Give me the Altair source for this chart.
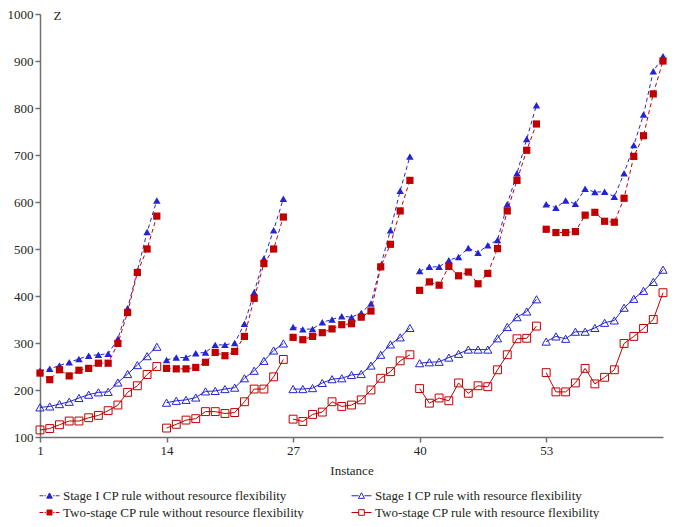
import altair as alt
import pandas as pd

instances = list(range(1, 66))

stage1_without = [
    241, 245, 252, 259, 266, 273, 275, 277, 309, 374, 453, 536, 603,
    264, 269, 269, 278, 280, 296, 296, 300, 341, 408, 480, 540, 607,
    334, 329, 330, 344, 350, 357, 355, 364, 384, 465, 540, 624, 697,
    453, 462, 462, 476, 483, 502, 492, 508, 519, 595, 661, 734, 806,
    595, 588, 603, 596, 628, 621, 622, 611, 661, 721, 786, 878, 910,
]
two_without = [
    236, 222, 243, 230, 242, 246, 257, 257, 299, 365, 450, 500, 570,
    246, 245, 245, 248, 259, 280, 273, 282, 314, 395, 469, 500, 568,
    312, 307, 314, 322, 330, 339, 341, 355, 368, 462, 510, 581, 646,
    412, 430, 423, 463, 443, 451, 426, 448, 501, 581, 646, 710, 766,
    542, 535, 535, 537, 572, 578, 559, 557, 608, 697, 741, 830, 900,
]
stage1_with = [
    163, 165, 170, 175, 183, 190, 195, 196, 216, 234, 253, 272, 292,
    173, 177, 179, 184, 197, 198, 202, 205, 225, 241, 262, 284, 299,
    202, 202, 204, 215, 223, 225, 232, 234, 252, 275, 297, 312, 332,
    257, 259, 260, 269, 277, 286, 286, 286, 310, 334, 355, 367, 393,
    303, 314, 309, 324, 324, 332, 343, 348, 375, 394, 411, 430, 456,
]
two_with = [
    115, 118, 126, 134, 134, 141, 146, 156, 168, 195, 209, 233, 250,
    119, 127, 136, 139, 154, 154, 150, 152, 175, 202, 202, 228, 265,
    138, 133, 148, 153, 175, 165, 168, 179, 200, 225, 239, 262, 275,
    203, 172, 183, 177, 215, 193, 209, 207, 243, 275, 309, 310, 336,
    237, 196, 196, 215, 246, 213, 227, 243, 299, 314, 331, 350, 407,
]

# legend order (filled column by column: left column first)
names = [
    "Stage I CP rule without resource flexibility",
    "Two-stage CP rule without resource flexibility",
    "Stage I CP rule with resource flexibility",
    "Two-stage CP rule with resource flexibility",
]
series_values = [stage1_without, two_without, stage1_with, two_with]
x_ticks = [1, 14, 27, 40, 53]

BLUE = "#2424d4"
RED = "#c00000"
FONT = "'Liberation Serif', 'DejaVu Serif', 'Times New Roman', serif"

rows = []
for name, vals in zip(names, series_values):
    for inst, v in zip(instances, vals):
        rows.append({"instance": inst, "value": v, "series": name, "group": (inst - 1) // 13})
df = pd.DataFrame(rows)

x_enc = alt.X(
    "instance:Q",
    scale=alt.Scale(domain=[1, 65], nice=False, zero=False),
    axis=alt.Axis(values=x_ticks, title="Instance", grid=False, titleY=33,
                  titleBaseline="middle", labelFlush=False),
)
y_enc = alt.Y(
    "value:Q",
    scale=alt.Scale(domain=[100, 1000], nice=False, zero=False),
    axis=alt.Axis(values=list(range(100, 1001, 100)), title="Z", grid=False, format="d",
                  titleAngle=0, titleX=13, titleY=1, titleAlign="left",
                  titleBaseline="middle"),
)

styles = {
    names[0]: dict(color=BLUE, dash=[4, 3], shape="triangle-up", filled=True, size=56),
    names[2]: dict(color=BLUE, dash=None, shape="triangle-up", filled=False, size=68),
    names[1]: dict(color=RED, dash=[4, 3], shape="square", filled=True, size=52),
    names[3]: dict(color=RED, dash=None, shape="square", filled=False, size=62),
}

layers = []
for name in names:
    st = styles[name]
    base = alt.Chart(df).transform_filter(alt.datum.series == name)
    line_kw = dict(color=st["color"], strokeWidth=1)
    if st["dash"]:
        line_kw["strokeDash"] = st["dash"]
    layers.append(base.mark_line(**line_kw).encode(x=x_enc, y=y_enc, detail="group:N"))
    layers.append(
        base.mark_point(shape=st["shape"], size=st["size"], filled=st["filled"],
                        color=st["color"], strokeWidth=1, opacity=1)
        .encode(x=x_enc, y=y_enc)
    )

# legend-only layer (no marks drawn); symbol box is 10px, paths reach 2 units (20px wide)
dash_tri = "M-2,0H-1.24M-1,0H-0.72M-0.56,0.48L0,-0.56L0.56,0.48ZM0.72,0H1M1.24,0H2"
solid_tri = "M-2,0H-0.6M-0.6,0.52L0,-0.6L0.6,0.52ZM0.6,0H2"
dash_sq = "M-2,0H-1.24M-1,0H-0.72M-0.5,-0.5H0.5V0.5H-0.5ZM0.72,0H1M1.24,0H2"
solid_sq = "M-2,0H-0.56M-0.56,-0.56H0.56V0.56H-0.56ZM0.56,0H2"
legend_paths = [dash_tri, dash_sq, solid_tri, solid_sq]
legend_strokes = [BLUE, RED, BLUE, RED]
legend_fills = [BLUE, RED, "transparent", "transparent"]

leg = alt.Legend(title=None, orient="none", legendX=3, legendY=475, columns=2,
                 columnPadding=44, rowPadding=3, labelFontSize=13,
                 labelOffset=7, symbolSize=100, symbolStrokeWidth=1, labelLimit=400,
                 labelFont=FONT, labelColor="#231f20")

legend_layer = (
    alt.Chart(df)
    .transform_filter("false")
    .mark_point(size=100, strokeWidth=1, opacity=1)
    .encode(
        x=x_enc,
        y=y_enc,
        shape=alt.Shape("series:N", scale=alt.Scale(domain=names, range=legend_paths), legend=leg),
        stroke=alt.Stroke("series:N", scale=alt.Scale(domain=names, range=legend_strokes), legend=leg),
        fill=alt.Fill("series:N", scale=alt.Scale(domain=names, range=legend_fills), legend=leg),
    )
)

chart = (
    alt.layer(*layers, legend_layer)
    .properties(
        width=623,
        height=423,
        autosize=alt.AutoSizeParams(type="none"),
        padding={"left": 32, "top": 6, "right": 5, "bottom": 82},
    )
    .configure(font=FONT)
    .configure_view(stroke=None)
    .configure_axis(
        domainColor="#707070", domainWidth=1.5, tickColor="#707070", tickWidth=1.5,
        tickSize=5, labelFontSize=13, labelColor="#231f20", titleFontSize=13,
        labelFont=FONT, titleFont=FONT,
        titleFontWeight="normal", titleColor="#231f20", labelPadding=2,
    )
    .configure_legend(labelColor="#231f20", labelFont=FONT)
)

chart.save("out.html", embed_options={"renderer": "svg", "actions": False})
